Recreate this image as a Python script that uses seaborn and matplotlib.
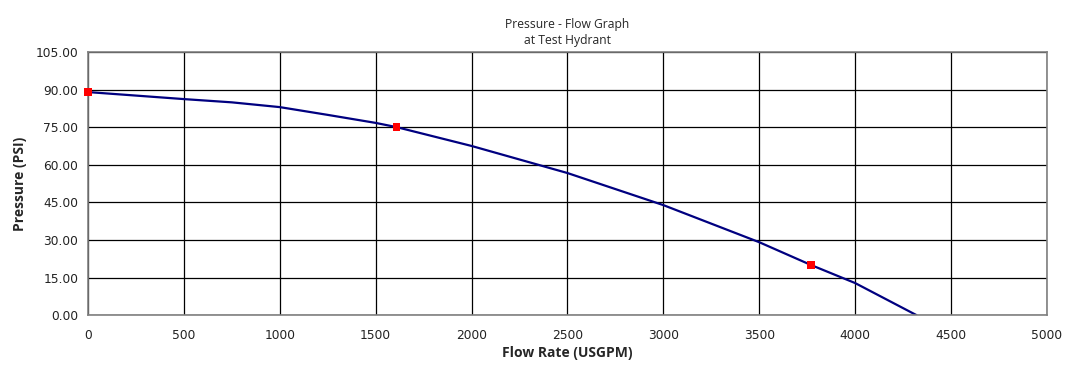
import pandas as pd
import seaborn as sns
import matplotlib.pyplot as plt
from matplotlib.ticker import FormatStrFormatter

# === Data ===
curve_flow = [0, 500, 750, 1000, 1250, 1500, 1610, 2000, 2500, 3000, 3500, 3770, 4000, 4320]
curve_pressure = [89.0, 86.2, 84.9, 83.0, 79.9, 76.7, 75.0, 67.5, 56.7, 43.9, 29.1, 20.0, 12.8, 0.0]

test_flow = [0, 1610, 3770]
test_pressure = [89.0, 75.0, 20.0]

x_ticks = list(range(0, 5001, 500))
y_ticks = [0, 15, 30, 45, 60, 75, 90, 105]

sns.set_theme(style="white")
plt.rcParams["font.family"] = ["Open Sans", "DejaVu Sans"]

curve = pd.DataFrame({"flow": curve_flow, "pressure": curve_pressure})
tests = pd.DataFrame({"flow": test_flow, "pressure": test_pressure})

fig = plt.figure(figsize=(10.65, 3.66), dpi=100)
ax = fig.add_axes([0.0826, 0.139, 0.9004, 0.719])

sns.lineplot(data=curve, x="flow", y="pressure", color="#000080", linewidth=1.6, ax=ax)
sns.scatterplot(data=tests, x="flow", y="pressure", color="#ff0000", marker="s",
                s=28, edgecolor="none", zorder=5, clip_on=False, ax=ax)

ax.set_xlim(0, 5000)
ax.set_ylim(0, 105)
ax.set_xticks(x_ticks)
ax.set_yticks(y_ticks)
ax.yaxis.set_major_formatter(FormatStrFormatter("%.2f"))
ax.grid(True, color="black", linewidth=0.9)
ax.set_axisbelow(True)
for spine in ax.spines.values():
    spine.set_color("#808080")
    spine.set_linewidth(1.2)
ax.tick_params(axis="both", direction="out", length=4, width=1, colors="#808080",
               labelcolor="#222222", labelsize=8.8, pad=3)
ax.tick_params(axis="x", pad=6)
for lbl in ax.get_xticklabels() + ax.get_yticklabels():
    lbl.set_fontfamily("DejaVu Sans")

ax.set_xlabel("Flow Rate (USGPM)", fontsize=10, fontweight="bold", labelpad=3)
ax.set_ylabel("Pressure (PSI)", fontsize=10, fontweight="bold", labelpad=6)
ax.set_title("Pressure - Flow Graph\nat Test Hydrant", fontsize=8.7, pad=6, linespacing=1.3)

fig.savefig("out.png", dpi=100)
plt.close(fig)
